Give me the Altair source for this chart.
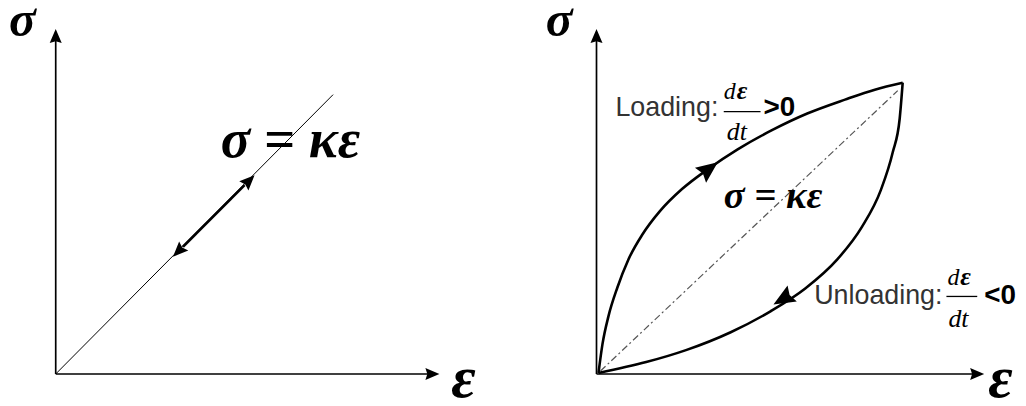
import altair as alt
import pandas as pd

# ---- values (page pixel units, y downward) ----
# axes (left panel, right panel)
axis_x = [56, 56, 600, 600]
axis_y = [375, 375, 375, 375]
axis_x2 = [56, 432, 600, 980]
axis_y2 = [38, 375, 38, 375]

# axis arrow tips and their directions (degrees clockwise from up)
axtip_x = [56, 442, 600, 990]
axtip_y = [28, 375, 28, 375]
axtip_a = [0, 90, 0, 90]

# left panel: linear elastic line sigma = k * eps
lin_x, lin_y, lin_x2, lin_y2 = [56], [375], [335], [94]
# double-headed arrow on that line
dbl_x, dbl_y, dbl_x2, dbl_y2 = [184], [247], [246], [185]
dbltip_x = [256, 174]
dbltip_y = [175, 257]
dbltip_a = [45, 225]

# right panel: loading / unloading curves
load_x = [602, 606, 612, 621, 632, 646, 664, 686, 712, 742, 776, 812, 850, 880, 908]
load_y = [374, 345, 317, 288, 260, 235, 211, 189, 169, 149, 130, 113, 99, 89, 82]
unl_x = [908, 905, 898, 886, 867, 842, 810, 775, 735, 690, 650, 602]
unl_y = [82, 118, 152, 190, 227, 260, 289, 312, 333, 351, 363, 374]
# curve arrowheads
crvtip_x = [722, 778]
crvtip_y = [162, 305]
crvtip_a = [53, 240]
# dash-dot reference line
dd_x, dd_y, dd_x2, dd_y2 = [604], [372], [903], [90]

# fraction bars of d(eps)/dt
bar_x = [728, 952]
bar_y = [111, 297]
bar_x2 = [765, 983]
bar_y2 = [111, 297]

# texts
axsig_text, axsig_x, axsig_y = ["σ", "σ"], [9, 549], [35, 35]
axeps_text, axeps_x, axeps_y = ["ε", "ε"], [454, 994], [398, 398]
eqL_text, eqL_x, eqL_y = ["σ = κε"], [222], [157]
eqR_text, eqR_x, eqR_y = ["σ = κε"], [728], [208]
lbl_text, lbl_x, lbl_y = ["Loading:", "Unloading:"], [619, 819], [115, 305]
d_text, d_x, d_y = ["d", "d"], [728, 953], [98, 285]
fe_text, fe_x, fe_y = ["ε", "ε"], [741, 966], [98, 285]
dt_text, dt_x, dt_y = ["dt", "dt"], [731, 954], [140, 328]
cmp_text, cmp_x, cmp_y = [">0", "<0"], [768, 990], [115, 305]

# ---- chart ----
W, H = 1016, 390
xs = alt.Scale(domain=[8, 1024], nice=False, zero=False)
ys = alt.Scale(domain=[8, 398], nice=False, zero=False, reverse=True)
X = lambda f="x": alt.X(f"{f}:Q", scale=xs, axis=None)
Y = lambda f="y": alt.Y(f"{f}:Q", scale=ys, axis=None)


def seg_layer(x, y, x2, y2, **kw):
    df = pd.DataFrame({"x": x, "y": y, "x2": x2, "y2": y2})
    kw.setdefault("color", "black")
    return alt.Chart(df).mark_rule(**kw).encode(
        x=X(), y=Y(), x2="x2:Q", y2="y2:Q")


HEAD = "M0,0L-0.62,1.45L0,1.25L0.62,1.45Z"


def head_layer(x, y, a, size):
    df = pd.DataFrame({"x": x, "y": y, "a": a})
    return alt.Chart(df).mark_point(shape=HEAD, filled=True, color="black",
                                    opacity=1, size=size, strokeWidth=0).encode(
        x=X(), y=Y(), angle=alt.Angle("a:Q", scale=None))


def text_layer(text, x, y, size, font, style="normal", weight="normal", color="black"):
    df = pd.DataFrame({"x": x, "y": y, "t": text})
    return alt.Chart(df).mark_text(align="left", baseline="alphabetic", font=font,
                                   fontSize=size, fontStyle=style, fontWeight=weight,
                                   color=color).encode(x=X(), y=Y(), text="t:N")


curves = pd.DataFrame({
    "x": load_x + unl_x,
    "y": load_y + unl_y,
    "c": ["loading"] * len(load_x) + ["unloading"] * len(unl_x),
})
curve_layer = alt.Chart(curves).mark_line(color="black", strokeWidth=2.6,
                                          interpolate="monotone").encode(
    x=X(), y=Y(), detail="c:N")

SERIF = "Liberation Serif"
SANS = "Liberation Sans"

layers = [
    seg_layer(axis_x, axis_y, axis_x2, axis_y2, strokeWidth=1.7),
    seg_layer(lin_x, lin_y, lin_x2, lin_y2, strokeWidth=1.0),
    seg_layer(dbl_x, dbl_y, dbl_x2, dbl_y2, strokeWidth=2.6),
    seg_layer(dd_x, dd_y, dd_x2, dd_y2, color="#555", strokeWidth=1.2,
              strokeDash=[7, 3, 2, 3]),
    seg_layer(bar_x, bar_y, bar_x2, bar_y2, strokeWidth=1.3),
    curve_layer,
    head_layer(axtip_x, axtip_y, axtip_a, 380),
    head_layer(dbltip_x, dbltip_y, dbltip_a, 440),
    head_layer(crvtip_x, crvtip_y, crvtip_a, 900),
    text_layer(axsig_text, axsig_x, axsig_y, 50, SERIF, "italic", "bold"),
    text_layer(axeps_text, axeps_x, axeps_y, 60, SERIF, "italic", "bold"),
    text_layer(eqL_text, eqL_x, eqL_y, 55, SERIF, "italic", "bold"),
    text_layer(eqR_text, eqR_x, eqR_y, 39, SERIF, "italic", "bold"),
    text_layer(lbl_text, lbl_x, lbl_y, 27, SANS, color="#333"),
    text_layer(d_text, d_x, d_y, 24, SERIF, "italic"),
    text_layer(fe_text, fe_x, fe_y, 26, SERIF, "italic", "bold"),
    text_layer(dt_text, dt_x, dt_y, 26, SERIF, "italic"),
    text_layer(cmp_text, cmp_x, cmp_y, 28, SANS, weight="bold"),
]

chart = alt.layer(*layers).properties(
    width=W, height=H, padding=0,
    autosize=alt.AutoSizeParams(type="none"),
).configure_view(stroke=None)

chart.save("out.html", embed_options={"renderer": "svg", "actions": False})
